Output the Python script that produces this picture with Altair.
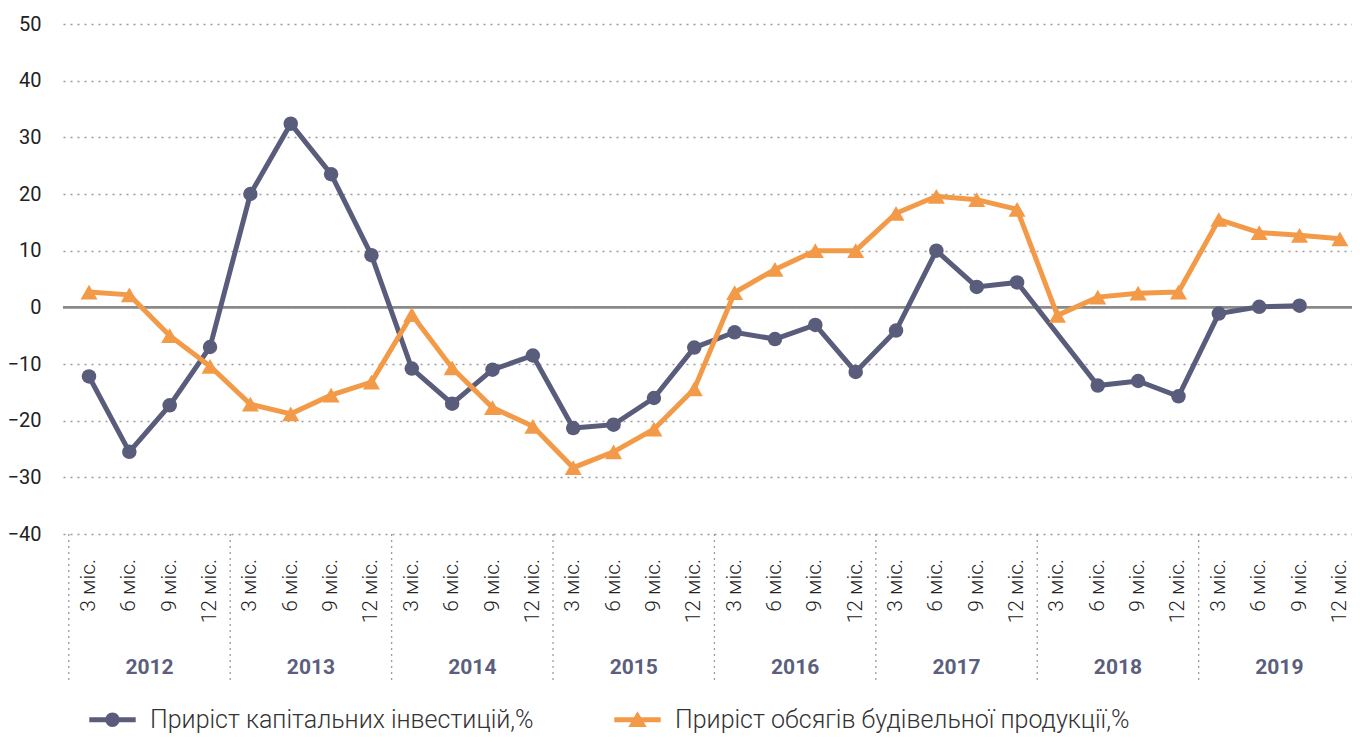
import altair as alt
import pandas as pd

# ---- data ----
years = ["2012", "2013", "2014", "2015", "2016", "2017", "2018", "2019"]
quarters = ["3 міс.", "6 міс.", "9 міс.", "12 міс."]
invest = [-12.2, -25.5, -17.3, -7.0,
          20.0, 32.4, 23.5, 9.2,
          -10.8, -17.0, -11.0, -8.5,
          -21.3, -20.7, -16.0, -7.1,
          -4.4, -5.6, -3.1, -11.4,
          -4.1, 10.0, 3.6, 4.4,
          None, -13.8, -13.0, -15.7,
          -1.1, 0.1, 0.3, None]
construction = [2.7, 2.2, -5.0, -10.4,
                -17.1, -18.8, -15.5, -13.2,
                -1.3, -10.7, -17.7, -21.0,
                -28.3, -25.5, -21.5, -14.4,
                2.6, 6.7, 10.0, 10.0,
                16.6, 19.6, 19.0, 17.3,
                -1.4, 1.8, 2.5, 2.7,
                15.5, 13.2, 12.7, 12.1]
series_names = ["Приріст капітальних інвестицій,%", "Приріст обсягів будівельної продукції,%"]
y_ticks = [-40, -30, -20, -10, 0, 10, 20, 30, 40, 50]

DARK = "#595d7b"
ORANGE = "#f39a48"

n = len(invest)
df = pd.DataFrame({
    "idx": list(range(n)),
    "quarter": [quarters[i % 4] for i in range(n)],
    "invest": invest,
    "constr": construction,
})
years_df = pd.DataFrame({"year": years, "center": [4 * i + 1.5 for i in range(len(years))]})
sep_df = pd.DataFrame({"pos": [4 * i - 0.5 for i in range(len(years))]})
zero_df = pd.DataFrame({"zero": [0]})
legend_df = pd.DataFrame({"series": series_names})

W, H = 1289, 510
xs = alt.Scale(domain=[-0.644, 31.3], nice=False, zero=False)
ys = alt.Scale(domain=[-40, 50], nice=False, zero=False)
yax = alt.Axis(values=y_ticks, title=None, grid=True, gridDash=[2, 5], gridColor="#9b9b9b",
               gridWidth=1.3, ticks=False, domain=False, labelFontSize=20, labelColor="#222",
               labelFont="Roboto", labelPadding=22)

base = alt.Chart(df)

inv_line = base.transform_filter("isValid(datum.invest)").mark_line(
    color=DARK, strokeWidth=5).encode(
    x=alt.X("idx:Q", scale=xs, axis=None), y=alt.Y("invest:Q", scale=ys, axis=yax))
inv_pts = base.transform_filter("isValid(datum.invest)").mark_point(
    shape="circle", filled=True, color=DARK, size=210, opacity=1).encode(
    x=alt.X("idx:Q", scale=xs, axis=None), y=alt.Y("invest:Q", scale=ys, axis=yax))
con_line = base.mark_line(color=ORANGE, strokeWidth=5).encode(
    x=alt.X("idx:Q", scale=xs, axis=None), y=alt.Y("constr:Q", scale=ys, axis=yax))
con_pts = base.mark_point(shape="triangle-up", filled=True, color=ORANGE, size=290, opacity=1).encode(
    x=alt.X("idx:Q", scale=xs, axis=None), y=alt.Y("constr:Q", scale=ys, axis=yax))

zero_rule = alt.Chart(zero_df).mark_rule(color="#8a8a8a", strokeWidth=2.6).encode(
    y=alt.Y("zero:Q", scale=ys, axis=yax))

seps = alt.Chart(sep_df).mark_rule(color="#9b9b9b", strokeWidth=1.3, strokeDash=[2, 4]).encode(
    x=alt.X("pos:Q", scale=xs, axis=None), y=alt.value(H), y2=alt.value(H + 148))

q_labels = base.mark_text(angle=270, align="right", baseline="middle", fontSize=21,
                          font="Roboto", fontWeight=300, color="#222").encode(
    x=alt.X("idx:Q", scale=xs, axis=None), y=alt.value(H + 25), text="quarter:N")

y_labels = alt.Chart(years_df).mark_text(fontSize=21, fontWeight="bold", font="Roboto",
                                         color="#5b5f7d", baseline="middle").encode(
    x=alt.X("center:Q", scale=xs, axis=None), y=alt.value(H + 134), text="year:N")

path_inv = ("M-2.9 -0.31 L2.9 -0.31 L2.9 0.31 L-2.9 0.31 Z "
            "M0.9 0 A0.9 0.9 0 1 1 -0.9 0 A0.9 0.9 0 1 1 0.9 0 Z")
path_con = ("M-2.9 -0.31 L2.9 -0.31 L2.9 0.31 L-2.9 0.31 Z "
            "M0 -1.05 L1.15 0.9 L-1.15 0.9 Z")
leg = alt.Legend(orient="none", legendX=37, legendY=683, direction="horizontal", title=None,
                 labelFontSize=25, labelFont="Roboto", labelFontWeight=300, labelColor="#333",
                 labelLimit=0, symbolSize=256, labelOffset=25, columnPadding=80, padding=0,
                 symbolStrokeWidth=0, symbolOpacity=1)
legend_layer = alt.Chart(legend_df).transform_filter("false").mark_point(
    filled=True, size=256, opacity=1).encode(
    color=alt.Color("series:N", scale=alt.Scale(domain=series_names, range=[DARK, ORANGE]), legend=leg),
    shape=alt.Shape("series:N", scale=alt.Scale(domain=series_names, range=[path_inv, path_con]), legend=leg),
)

chart = alt.layer(
    seps, zero_rule, inv_line, inv_pts, con_line, con_pts, q_labels, y_labels, legend_layer
).properties(
    width=W, height=H,
    padding={"left": 55, "top": 16, "right": 0, "bottom": 202},
    autosize=alt.AutoSizeParams(type="none"),
).configure_view(stroke=None)

chart.save("out.html", embed_options={"renderer": "svg", "actions": False})
